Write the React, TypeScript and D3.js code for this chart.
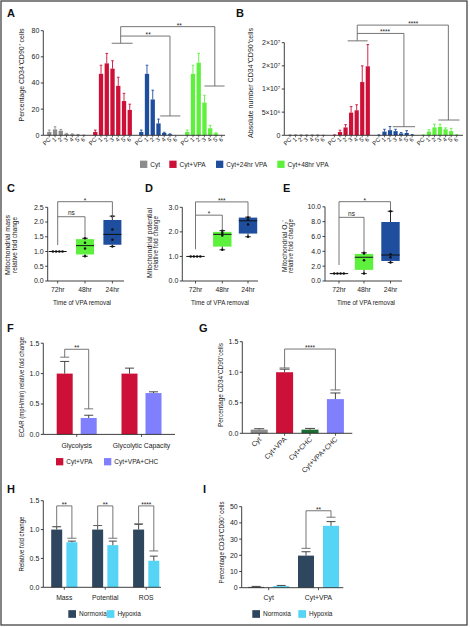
import React, { useEffect } from 'react';
import * as d3 from 'd3';

const FONT = "'Liberation Sans', Arial, Helvetica, sans-serif";
const AXC = '#2a2a2a';
const BRC = '#666666';
const TXT = '#222222';

// ===== Panels A / B =====
const passageLabels = ['PC', '1', '2', '3', '4', '5', '6'];
const abConditions = ['Cyt', 'Cyt+VPA', 'Cyt+24hr VPA', 'Cyt+48hr VPA'];
const abColors = ['#8c8c8c', '#cc1037', '#1f4e9f', '#5df03c'];
const pctCyt = [2.5, 4.5, 3.5, 1.2, 0.8, 0.5, 0.1];
const pctCytErr = [1.5, 2.0, 1.0, 0.3, 0.3, 0.2, 0.1];
const pctVPA = [2.5, 47, 55, 51, 37.8, 26.2, 19.4];
const pctVPAErr = [1.5, 6.6, 7.6, 6.0, 6.6, 5.9, 4.4];
const pct24 = [2.5, 47, 27.4, 9.1, 1.8, 0.8, 0];
const pct24Err = [1.5, 6.6, 7.1, 3.3, 0.5, 0.3, 0];
const pct48 = [2.5, 47, 55.5, 25, 5.4, 1.5, 0];
const pct48Err = [1.5, 6.6, 7.2, 5.6, 2.2, 0.5, 0];
// absolute numbers in units of 10^6 cells
const absCyt = [0.05, 0.05, 0.05, 0.05, 0.05, 0.05, 0.02];
const absCytErr = [0.05, 0.05, 0.05, 0.05, 0.05, 0.05, 0.02];
const absVPA = [0.05, 0.7, 1.7, 4.9, 5.4, 11.5, 14.9];
const absVPAErr = [0.05, 0.4, 0.6, 1.3, 1.2, 3.5, 4.7];
const abs24 = [0.05, 0.8, 1.1, 0.9, 0.4, 0.5, 0.1];
const abs24Err = [0.05, 0.5, 0.8, 0.4, 0.2, 0.5, 0.05];
const abs48 = [0.05, 0.8, 1.7, 1.8, 1.3, 0.9, 0.1];
const abs48Err = [0.05, 0.4, 0.7, 0.6, 0.3, 0.6, 0.05];
const pctTicks = [0, 20, 40, 60, 80];
const pctTickLabels = ['0', '20', '40', '60', '80'];
const absTicks = [0, 5, 10, 15, 20];
const absTickLabels = ['0', '5×10⁶', '1×10⁷', '2×10⁷', '2×10⁷'];

// ===== Panels C / D / E =====
const removalCats = ['72hr', '48hr', '24hr'];
const boxFills = [null, '#5df03c', '#1f4e9f'];
const massMin = [1, 0.84, 1.17];
const massQ1 = [1, 0.9, 1.23];
const massMed = [1, 1.2, 1.58];
const massQ3 = [1, 1.42, 2.07];
const massMax = [1, 1.45, 2.2];
const massPts = [[1, 1, 1, 1], [1.45, 1.3, 1.1, 0.84], [2.2, 1.75, 1.4, 1.17]];
const potMin = [1, 1.27, 1.8];
const potQ1 = [1, 1.4, 1.93];
const potMed = [1, 1.9, 2.45];
const potQ3 = [1, 2.0, 2.58];
const potMax = [1, 2.05, 2.6];
const potPts = [[1, 1, 1, 1], [2.05, 1.95, 1.85, 1.27], [2.6, 2.5, 2.3, 1.8]];
const roxMin = [1, 1.0, 2.5];
const roxQ1 = [1, 1.5, 2.7];
const roxMed = [1, 3.2, 3.5];
const roxQ3 = [1, 3.65, 7.95];
const roxMax = [1, 3.8, 9.4];
const roxPts = [[1, 1, 1, 1], [3.8, 3.7, 2.8, 1.0], [9.4, 3.6, 3.2, 2.5]];
const massTicks = [0, 0.5, 1, 1.5, 2, 2.5];
const potTicks = [0, 1, 2, 3];
const roxTicks = [0, 2, 4, 6, 8, 10];

// ===== Panel F =====
const fCats = ['Glycolysis', 'Glycolytic Capacity'];
const fSeries = ['Cyt+VPA', 'Cyt+VPA+CHC'];
const fColors = ['#cc1037', '#8080ff'];
const ecarVPA = [1.0, 1.0];
const ecarVPAErr = [0.2, 0.09];
const ecarCHC = [0.27, 0.68];
const ecarCHCErr = [0.045, 0.02];
const foldTicks = [0, 0.5, 1, 1.5];

// ===== Panel G =====
const gCats = ['Cyt', 'Cyt+VPA', 'Cyt+CHC', 'Cyt+VPA+CHC'];
const gColors = ['#8c8c8c', '#cc1037', '#1c6b33', '#8080ff'];
const gVals = [0.06, 1.0, 0.06, 0.56];
const gErr = [0.015, 0.05, 0.02, 0.1];

// ===== Panel H =====
const hCats = ['Mass', 'Potential', 'ROS'];
const oxSeries = ['Normoxia', 'Hypoxia'];
const oxColors = ['#2f465f', '#55d4f5'];
const hNorm = [1, 1, 1];
const hNormErr = [0.05, 0.07, 0.09];
const hHyp = [0.78, 0.73, 0.46];
const hHypErr = [0.02, 0.07, 0.08];
const hSig = ['**', '**', '****'];
const hLeftTick = [1.05, 1.07, 1.1];
const hRightTick = [0.85, 0.85, 0.63];

// ===== Panel I =====
const iCats = ['Cyt', 'Cyt+VPA'];
const iNorm = [0.5, 19.8];
const iNormErr = [0.3, 2.4];
const iHyp = [1.0, 38.2];
const iHypErr = [0.4, 2.6];
const iTicks = [0, 10, 20, 30, 40, 50];

// ---------- helpers ----------
function YAxis({ x, y, ticks, labels, fs = 7 }: any) {
  const top = y(ticks[ticks.length - 1]);
  const bot = y(ticks[0]);
  return (
    <g>
      <line x1={x} x2={x} y1={bot} y2={top} stroke={AXC} strokeWidth={0.9} />
      {ticks.map((t: number, i: number) => (
        <g key={i}>
          <line x1={x - 2.5} x2={x} y1={y(t)} y2={y(t)} stroke={AXC} strokeWidth={0.9} />
          <text x={x - 4} y={y(t)} dy="0.35em" textAnchor="end" fontSize={fs} fill={TXT}>{labels[i]}</text>
        </g>
      ))}
    </g>
  );
}

function YLabel({ x, cy, len, fs = 7, children }: any) {
  return (
    <text transform={`translate(${x},${cy}) rotate(-90)`} textAnchor="middle" fontSize={fs} fill={TXT}
      textLength={len} lengthAdjust="spacingAndGlyphs">{children}</text>
  );
}

function Bar({ cx, w, y, v, e, fill, ec, capW }: any) {
  const y0 = y(0);
  return (
    <g>
      <rect x={cx - w / 2} y={y(v)} width={w} height={Math.max(0, y0 - y(v))} fill={fill} />
      {e > 0 && (
        <g stroke={ec} strokeWidth={0.9}>
          <line x1={cx} x2={cx} y1={y(v)} y2={y(v + e)} />
          <line x1={cx - capW / 2} x2={cx + capW / 2} y1={y(v + e)} y2={y(v + e)} />
        </g>
      )}
    </g>
  );
}

function Letter({ x, y, t }: any) {
  return <text x={x} y={y} fontSize={11} fontWeight="bold" fill="#111">{t}</text>;
}

function Legend({ items, colors, xs, cy, size = 7, fs = 6.5 }: any) {
  return (
    <g>
      {items.map((it: string, i: number) => (
        <g key={it}>
          <rect x={xs[i]} y={cy - size / 2} width={size} height={size} fill={colors[i]} />
          <text x={xs[i] + size + 3} y={cy} dy="0.35em" fontSize={fs} fill={TXT}>{it}</text>
        </g>
      ))}
    </g>
  );
}

function Sig({ x, y, t, fs = 6.5 }: any) {
  return <text x={x} y={y} textAnchor="middle" fontSize={fs} fill={TXT}>{t}</text>;
}

function PassagePanel({ means, errs, y, x, barW, axX, axEnd, ticks, tickLabels }: any) {
  const y0 = y(0);
  return (
    <g>
      {means.map((ser: number[], g: number) => ser.map((v: number, i: number) => {
        const cx = x(g * 8 + i);
        return (
          <g key={`${g}-${i}`}>
            <Bar cx={cx} w={barW} y={y} v={v} e={errs[g][i]} fill={abColors[g]} ec={abColors[g]} capW={2.6} />
            <line x1={cx} x2={cx} y1={y0} y2={y0 + 2} stroke={AXC} strokeWidth={0.7} />
            <text transform={`translate(${cx + 1.8},${y0 + 4.6}) rotate(-45)`} textAnchor="end" fontSize={6} fill={TXT}>{passageLabels[i]}</text>
          </g>
        );
      }))}
      <line x1={axX} x2={axEnd} y1={y0} y2={y0} stroke={AXC} strokeWidth={0.9} />
      <YAxis x={axX} y={y} ticks={ticks} labels={tickLabels} />
    </g>
  );
}

function spreadOffsets(vals: number[]) {
  return vals.map((v, j) => {
    const same = vals.map((u, k) => [u, k]).filter(([u]) => u === v).map(([, k]) => k);
    const r = same.indexOf(j);
    return (r - (same.length - 1) / 2) * 3.2;
  });
}

function BoxPanel({ centers, y, axX, axEnd, ticks, mins, q1s, meds, q3s, maxs, pts, boxW, brk, titleX }: any) {
  const y0 = y(0);
  const h = boxW / 2;
  const [c0, c1, c2] = centers;
  return (
    <g>
      <line x1={axX} x2={axEnd} y1={y0} y2={y0} stroke={AXC} strokeWidth={0.9} />
      <YAxis x={axX} y={y} ticks={ticks} labels={ticks.map((t: number) => d3.format('.1f')(t))} />
      {removalCats.map((c, i) => {
        const cx = centers[i];
        const flat = q1s[i] === q3s[i];
        const offs = spreadOffsets(pts[i]);
        return (
          <g key={c}>
            <line x1={cx} x2={cx} y1={y0} y2={y0 + 2.5} stroke={AXC} strokeWidth={0.8} />
            <text x={cx} y={292} textAnchor="middle" fontSize={6.8} fill={TXT}>{c}</text>
            {!flat && (
              <g>
                <rect x={cx - h} y={y(q3s[i])} width={boxW} height={y(q1s[i]) - y(q3s[i])} fill={boxFills[i] as string} />
                <g stroke="#111" strokeWidth={0.9}>
                  <line x1={cx} x2={cx} y1={y(q3s[i])} y2={y(maxs[i])} />
                  <line x1={cx} x2={cx} y1={y(q1s[i])} y2={y(mins[i])} />
                  <line x1={cx - 2.8} x2={cx + 2.8} y1={y(maxs[i])} y2={y(maxs[i])} />
                  <line x1={cx - 2.8} x2={cx + 2.8} y1={y(mins[i])} y2={y(mins[i])} />
                </g>
              </g>
            )}
            <line x1={cx - h} x2={cx + h} y1={y(meds[i])} y2={y(meds[i])} stroke="#111" strokeWidth={1} />
            {pts[i].map((p: number, j: number) => (
              <circle key={j} cx={cx + offs[j]} cy={y(p)} r={1.25} fill="#111" />
            ))}
          </g>
        );
      })}
      <g fill="none" stroke={BRC} strokeWidth={0.9}>
        <path d={`M${c0},${y(brk.start)}V${y(brk.top)}H${c2}V${y(brk.topEnd)}`} />
        <path d={`M${c0},${y(brk.low)}H${c1}V${y(brk.lowEnd)}`} />
      </g>
      <Sig x={(c0 + c1) / 2} y={y(brk.low) - (brk.labels[0] === 'ns' ? 1.8 : -1)} t={brk.labels[0]} />
      <Sig x={(c0 + c2) / 2} y={y(brk.top) - (brk.labels[1] === 'ns' ? 1.8 : -1)} t={brk.labels[1]} />
      <text x={titleX} y={304.5} textAnchor="middle" fontSize={7} fill={TXT} textLength={58} lengthAdjust="spacingAndGlyphs">Time of VPA removal</text>
    </g>
  );
}

export default function App() {
  useEffect(() => { document.body.style.margin = '0'; }, []);

  // ----- A -----
  const yA = d3.scaleLinear().domain([0, 80]).range([135.3, 30.7]);
  const xA = d3.scaleLinear().domain([0, 30]).range([49.3, 221.7]);
  // ----- B -----
  const yB = d3.scaleLinear().domain([0, 20]).range([135.3, 42.7]);
  const xB = d3.scaleLinear().domain([0, 30]).range([290, 456.7]);
  // ----- C/D/E -----
  const yC = d3.scaleLinear().domain([0, 2.5]).range([281, 207.3]);
  const yD = d3.scaleLinear().domain([0, 3]).range([281, 207.3]);
  const yE = d3.scaleLinear().domain([0, 10]).range([281, 206.8]);
  // ----- F -----
  const yF = d3.scaleLinear().domain([0, 1.5]).range([434.4, 343.2]);
  const xF = d3.scalePoint<string>().domain(fCats).range([76.7, 141.5]);
  const oF = d3.scalePoint<string>().domain(fSeries).range([-12, 12]);
  // ----- G -----
  const yG = d3.scaleLinear().domain([0, 1.5]).range([433.3, 341.7]);
  const xG = d3.scaleBand<string>().domain(gCats).range([242.3, 352.3]).padding(0.33);
  // ----- H -----
  const yH = d3.scaleLinear().domain([0, 1.5]).range([587.3, 500.7]);
  const xH = d3.scalePoint<string>().domain(hCats).range([64.3, 146.2]);
  const oH = d3.scalePoint<string>().domain(oxSeries).range([-7.6, 7.6]);
  // ----- I -----
  const yI = d3.scaleLinear().domain([0, 50]).range([587.7, 506.7]);
  const xI = d3.scalePoint<string>().domain(iCats).range([268.7, 318.5]);
  const oI = d3.scalePoint<string>().domain(oxSeries).range([-12.5, 12.5]);

  const redA = xA(12.42);
  const redB = xB(12.1);
  const fSer = [ecarVPA, ecarCHC];
  const fErr = [ecarVPAErr, ecarCHCErr];
  const hSer = [hNorm, hHyp];
  const hErr = [hNormErr, hHypErr];
  const iSer = [iNorm, iHyp];
  const iErr = [iNormErr, iHypErr];

  return (
    <svg width={470} height={627} style={{ position: 'absolute', left: 0, top: 0, background: '#fff' }} fontFamily={FONT}>
      <rect x={1} y={1} width={466} height={624} fill="#fff" stroke="#444" strokeWidth={1.3} />

      {/* ---------------- A ---------------- */}
      <Letter x={7} y={17} t="A" />
      <PassagePanel means={[pctCyt, pctVPA, pct24, pct48]} errs={[pctCytErr, pctVPAErr, pct24Err, pct48Err]}
        y={yA} x={xA} barW={4.3} axX={43.3} axEnd={225} ticks={pctTicks} tickLabels={pctTickLabels} />
      <YLabel x={23.5} cy={75} len={93}>Percentage CD34⁺CD90⁺ cells</YLabel>
      <g fill="none" stroke={BRC} strokeWidth={0.9}>
        <line x1={xA(10.86)} x2={xA(14.5)} y1={yA(70.4)} y2={yA(70.4)} />
        <line x1={redA} x2={redA} y1={yA(70.4)} y2={yA(83.1)} />
        <path d={`M${redA},${yA(75.9)}H${xA(21)}V${yA(14.8)}`} />
        <line x1={xA(19.3)} x2={xA(22.8)} y1={yA(14.8)} y2={yA(14.8)} />
        <path d={`M${redA},${yA(83.1)}H${xA(28.8)}V${yA(37.7)}`} />
        <line x1={xA(27)} x2={xA(30.5)} y1={yA(37.7)} y2={yA(37.7)} />
      </g>
      <Sig x={xA(17.2)} y={yA(75.9) + 1} t="**" />
      <Sig x={xA(22.6)} y={yA(83.1) + 1} t="**" />

      {/* ---------------- B ---------------- */}
      <Letter x={236} y={17} t="B" />
      <PassagePanel means={[absCyt, absVPA, abs24, abs48]} errs={[absCytErr, absVPAErr, abs24Err, abs48Err]}
        y={yB} x={xB} barW={4.2} axX={284.3} axEnd={463} ticks={absTicks} tickLabels={absTickLabels} />
      <YLabel x={253} cy={83} len={110}>Absolute number CD34⁺CD90⁺cells</YLabel>
      <g fill="none" stroke={BRC} strokeWidth={0.9}>
        <line x1={xB(10.38)} x2={xB(13.98)} y1={yB(20.4)} y2={yB(20.4)} />
        <line x1={redB} x2={redB} y1={yB(20.4)} y2={yB(23.8)} />
        <path d={`M${redB},${yB(22)}H${xB(20.5)}V${yB(1.86)}`} />
        <line x1={xB(18.5)} x2={xB(22.5)} y1={yB(1.86)} y2={yB(1.86)} />
        <path d={`M${redB},${yB(23.8)}H${xB(28.5)}V${yB(3.3)}`} />
        <line x1={xB(26.7)} x2={xB(30.5)} y1={yB(3.3)} y2={yB(3.3)} />
      </g>
      <Sig x={xB(17.1)} y={yB(22) + 1} t="****" />
      <Sig x={xB(22.2)} y={yB(23.8) + 1} t="****" />

      <Legend items={abConditions} colors={abColors} xs={[140, 169.3, 216, 277.3]} cy={164.3} size={7.3} />

      {/* ---------------- C ---------------- */}
      <Letter x={7} y={192} t="C" />
      <BoxPanel centers={[57.7, 85, 112.4]} y={yC} axX={47.7} axEnd={124} ticks={massTicks}
        mins={massMin} q1s={massQ1} meds={massMed} q3s={massQ3} maxs={massMax} pts={massPts} boxW={18}
        brk={{ start: 1.22, low: 2.18, lowEnd: 1.48, top: 2.69, topEnd: 2.1, labels: ['ns', '*'] }} titleX={82} />
      <YLabel x={10} cy={245} len={60}>Mitochondrial mass</YLabel>
      <YLabel x={16.5} cy={245} len={56}>relative fold change</YLabel>

      {/* ---------------- D ---------------- */}
      <Letter x={145} y={192} t="D" />
      <BoxPanel centers={[195.5, 222.3, 248]} y={yD} axX={182.3} axEnd={258} ticks={potTicks}
        mins={potMin} q1s={potQ1} meds={potMed} q3s={potQ3} maxs={potMax} pts={potPts} boxW={18.4}
        brk={{ start: 1.29, low: 2.68, lowEnd: 2.07, top: 3.22, topEnd: 2.61, labels: ['*', '***'] }} titleX={220} />
      <YLabel x={151.5} cy={243} len={70}>Mitochondrial potential</YLabel>
      <YLabel x={158} cy={243} len={54}>relative fold change</YLabel>

      {/* ---------------- E ---------------- */}
      <Letter x={283} y={192} t="E" />
      <BoxPanel centers={[339, 364, 390.5]} y={yE} axX={325} axEnd={402} ticks={roxTicks}
        mins={roxMin} q1s={roxQ1} meds={roxMed} q3s={roxQ3} maxs={roxMax} pts={roxPts} boxW={18.4}
        brk={{ start: 2.16, low: 8.58, lowEnd: 3.95, top: 10.69, topEnd: 9.57, labels: ['ns', '*'] }} titleX={366} />
      <YLabel x={286.5} cy={246} len={52}>Mitochondrial O₂⁻</YLabel>
      <YLabel x={293} cy={246} len={54}>relative fold change</YLabel>

      {/* ---------------- F ---------------- */}
      <Letter x={7} y={332} t="F" />
      {fCats.map((c, ci) => (
        <g key={c}>
          {fSeries.map((s, si) => (
            <Bar key={s} cx={(xF(c) as number) + (oF(s) as number)} w={16} y={yF} v={fSer[si][ci]} e={fErr[si][ci]}
              fill={fColors[si]} ec="#333" capW={9} />
          ))}
          <line x1={xF(c)} x2={xF(c)} y1={yF(0)} y2={yF(0) + 2.5} stroke={AXC} strokeWidth={0.8} />
          <text x={xF(c)} y={447.5} textAnchor="middle" fontSize={6.8} fill={TXT}>{c}</text>
        </g>
      ))}
      <line x1={43.3} x2={175} y1={yF(0)} y2={yF(0)} stroke={AXC} strokeWidth={0.9} />
      <YAxis x={43.3} y={yF} ticks={foldTicks} labels={foldTicks.map((t) => d3.format('.1f')(t))} />
      <YLabel x={23.5} cy={387} len={100}>ECAR (mpH/min) relative fold change</YLabel>
      {(() => {
        const l = (xF('Glycolysis') as number) + (oF('Cyt+VPA') as number);
        const r = (xF('Glycolysis') as number) + (oF('Cyt+VPA+CHC') as number);
        return (
          <g>
            <g fill="none" stroke={BRC} strokeWidth={0.9}>
              <path d={`M${l},${yF(1.27)}V${yF(1.4)}H${r}V${yF(0.42)}`} />
              <line x1={l - 4.5} x2={l + 4.5} y1={yF(1.27)} y2={yF(1.27)} />
              <line x1={r - 4.5} x2={r + 4.5} y1={yF(0.42)} y2={yF(0.42)} />
            </g>
            <Sig x={(l + r) / 2} y={yF(1.4) + 1} t="**" />
          </g>
        );
      })()}
      <Legend items={fSeries} colors={fColors} xs={[56, 104]} cy={461.7} size={7.3} />

      {/* ---------------- G ---------------- */}
      <Letter x={199} y={332} t="G" />
      {gCats.map((c, i) => {
        const cx = (xG(c) as number) + xG.bandwidth() / 2;
        return (
          <g key={c}>
            <Bar cx={cx} w={xG.bandwidth()} y={yG} v={gVals[i]} e={gErr[i]} fill={gColors[i]} ec="#333" capW={10} />
            <line x1={cx} x2={cx} y1={yG(0)} y2={yG(0) + 2.5} stroke={AXC} strokeWidth={0.8} />
            <text transform={`translate(${cx + 2.5},${yG(0) + 6.5})rotate(-45)`} textAnchor="end" fontSize={7} fill={TXT}>{c}</text>
          </g>
        );
      })}
      <line x1={242.3} x2={352.3} y1={yG(0)} y2={yG(0)} stroke={AXC} strokeWidth={0.9} />
      <YAxis x={242.3} y={yG} ticks={foldTicks} labels={foldTicks.map((t) => d3.format('.1f')(t))} />
      <YLabel x={223} cy={385} len={84}>Percentage CD34⁺CD90⁺cells</YLabel>
      {(() => {
        const l = (xG('Cyt+VPA') as number) + xG.bandwidth() / 2;
        const r = (xG('Cyt+VPA+CHC') as number) + xG.bandwidth() / 2;
        return (
          <g>
            <g fill="none" stroke={BRC} strokeWidth={0.9}>
              <path d={`M${l},${yG(1.07)}V${yG(1.38)}H${r}V${yG(0.71)}`} />
              <line x1={l - 5} x2={l + 5} y1={yG(1.07)} y2={yG(1.07)} />
              <line x1={r - 5} x2={r + 5} y1={yG(0.71)} y2={yG(0.71)} />
            </g>
            <Sig x={(l + r) / 2} y={yG(1.38) + 1} t="****" />
          </g>
        );
      })()}

      {/* ---------------- H ---------------- */}
      <Letter x={7} y={493} t="H" />
      {hCats.map((c, ci) => {
        const l = (xH(c) as number) + (oH('Normoxia') as number);
        const r = (xH(c) as number) + (oH('Hypoxia') as number);
        return (
          <g key={c}>
            {oxSeries.map((s, si) => (
              <Bar key={s} cx={(xH(c) as number) + (oH(s) as number)} w={11} y={yH} v={hSer[si][ci]} e={hErr[si][ci]}
                fill={oxColors[si]} ec="#333" capW={8} />
            ))}
            <line x1={xH(c)} x2={xH(c)} y1={yH(0)} y2={yH(0) + 2.5} stroke={AXC} strokeWidth={0.8} />
            <text x={xH(c)} y={600} textAnchor="middle" fontSize={6.8} fill={TXT}>{c}</text>
            <g fill="none" stroke={BRC} strokeWidth={0.9}>
              <path d={`M${l},${yH(hLeftTick[ci])}V${yH(1.41)}H${r}V${yH(hRightTick[ci])}`} />
              <line x1={l - 4.5} x2={l + 4.5} y1={yH(hLeftTick[ci])} y2={yH(hLeftTick[ci])} />
              <line x1={r - 4.5} x2={r + 4.5} y1={yH(hRightTick[ci])} y2={yH(hRightTick[ci])} />
            </g>
            <Sig x={xH(c)} y={yH(1.41) + 1} t={hSig[ci]} />
          </g>
        );
      })}
      <line x1={43.3} x2={161} y1={yH(0)} y2={yH(0)} stroke={AXC} strokeWidth={0.9} />
      <YAxis x={43.3} y={yH} ticks={foldTicks} labels={foldTicks.map((t) => d3.format('.1f')(t))} />
      <YLabel x={23.5} cy={544} len={55}>Relative fold change</YLabel>
      <Legend items={oxSeries} colors={oxColors} xs={[68.3, 106.7]} cy={614} size={7.7} />

      {/* ---------------- I ---------------- */}
      <Letter x={203} y={493} t="I" />
      {iCats.map((c, ci) => (
        <g key={c}>
          {oxSeries.map((s, si) => (
            <Bar key={s} cx={(xI(c) as number) + (oI(s) as number)} w={16} y={yI} v={iSer[si][ci]} e={iErr[si][ci]}
              fill={oxColors[si]} ec="#333" capW={9} />
          ))}
          <line x1={xI(c)} x2={xI(c)} y1={yI(0)} y2={yI(0) + 2.5} stroke={AXC} strokeWidth={0.8} />
          <text x={xI(c)} y={600} textAnchor="middle" fontSize={6.8} fill={TXT}>{c}</text>
        </g>
      ))}
      <line x1={241.7} x2={343.3} y1={yI(0)} y2={yI(0)} stroke={AXC} strokeWidth={0.9} />
      <YAxis x={241.7} y={yI} ticks={iTicks} labels={iTicks.map((t) => String(t))} />
      <YLabel x={223.5} cy={542.5} len={82}>Percentage CD34⁺CD90⁺ cells</YLabel>
      {(() => {
        const l = (xI('Cyt+VPA') as number) + (oI('Normoxia') as number);
        const r = (xI('Cyt+VPA') as number) + (oI('Hypoxia') as number);
        return (
          <g>
            <g fill="none" stroke={BRC} strokeWidth={0.9}>
              <path d={`M${l},${yI(24.3)}V${yI(47.5)}H${r}V${yI(43.5)}`} />
              <line x1={l - 4.5} x2={l + 4.5} y1={yI(24.3)} y2={yI(24.3)} />
              <line x1={r - 4.5} x2={r + 4.5} y1={yI(43.5)} y2={yI(43.5)} />
            </g>
            <Sig x={(l + r) / 2} y={yI(47.5) + 1} t="**" />
          </g>
        );
      })()}
      <Legend items={oxSeries} colors={oxColors} xs={[252.3, 298.3]} cy={614} size={7.7} />
    </svg>
  );
}
